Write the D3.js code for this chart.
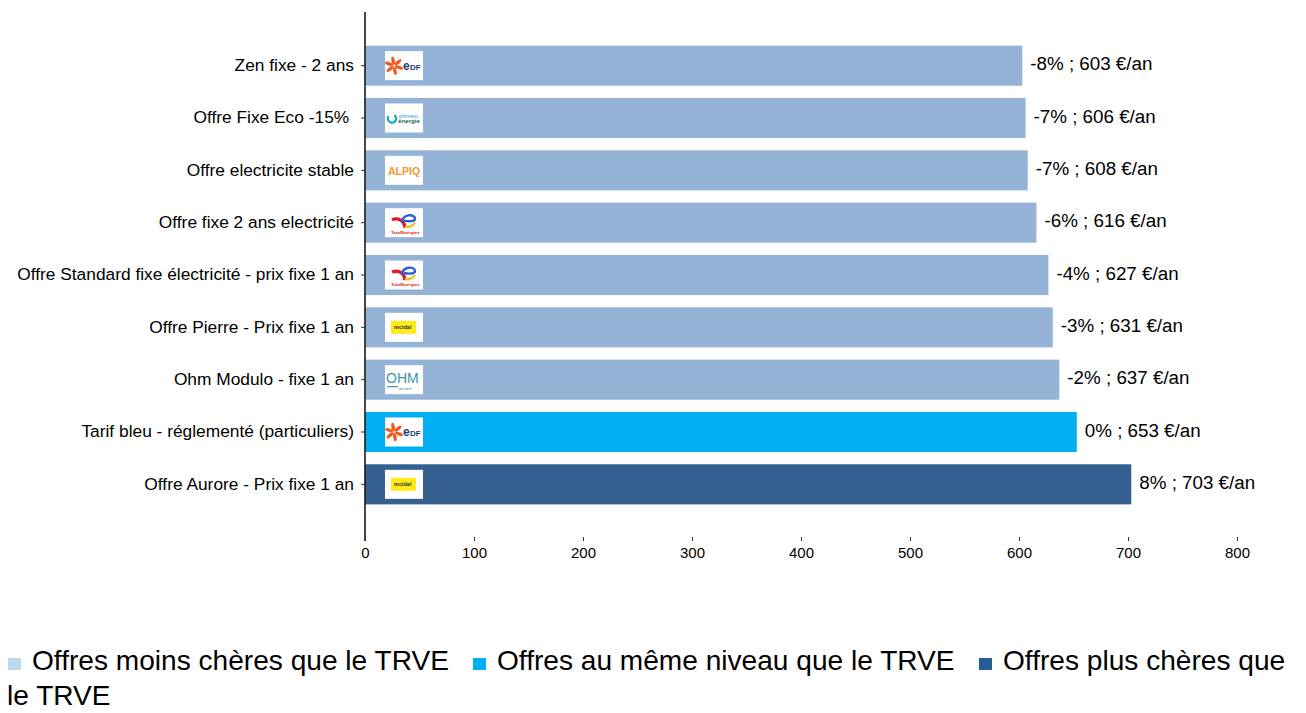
<!DOCTYPE html>
<html><head><meta charset="utf-8">
<script src="https://cdnjs.cloudflare.com/ajax/libs/d3/7.8.5/d3.min.js"></script>
<style>html,body{margin:0;padding:0;background:#fff;overflow:hidden}svg{display:block}text{font-family:"Liberation Sans",Arial,sans-serif;fill:#000;white-space:pre}</style>
</head><body><svg id="c" width="1306" height="713"></svg>
<script>
const offers=["Zen fixe - 2 ans","Offre Fixe Eco -15% ","Offre electricite stable","Offre fixe 2 ans electricité","Offre Standard fixe électricité - prix fixe 1 an","Offre Pierre - Prix fixe 1 an","Ohm Modulo - fixe 1 an","Tarif bleu - réglementé (particuliers)","Offre Aurore - Prix fixe 1 an"];
const prices=[603,606,608,616,627,631,637,653,703];
const deltas=["-8%","-7%","-7%","-6%","-4%","-3%","-2%","0%","8%"];
const groups=["low","low","low","low","low","low","low","same","high"];
const logos=["edf","primeo","alpiq","total","total","mint","ohm","edf","mint"];
const xTicks=[0,100,200,300,400,500,600,700,800];
const groupColors={low:"#95B3D7",same:"#00B0F0",high:"#366092"};
const legendItems=[["Offres moins chères que le TRVE","#BDD7EE"],["Offres au même niveau que le TRVE","#00B0F0"],["Offres plus chères que","#255E91"]];

const svg=d3.select("#c");
const x=d3.scaleLinear().domain([0,800]).range([365,1237]);
const y=d3.scaleBand().domain(offers).range([39.5,510.5]).paddingInner(0.234).paddingOuter(0.117);

svg.selectAll("rect.bar").data(offers).join("rect").attr("class","bar")
 .attr("x",x(0)).attr("y",d=>y(d)).attr("height",y.bandwidth())
 .attr("width",(d,i)=>x(prices[i])-x(0)).attr("fill",(d,i)=>groupColors[groups[i]]);

const yAxis=svg.append("g").attr("transform","translate(365,0)").call(d3.axisLeft(y).tickSize(4).tickPadding(7));
yAxis.select(".domain").remove();
yAxis.selectAll("line").attr("stroke","#333");
yAxis.selectAll("text").attr("font-size",17.33).attr("dy","0.3em").style("font-family",'"Liberation Sans",Arial,sans-serif');
svg.append("line").attr("x1",365).attr("x2",365).attr("y1",12).attr("y2",541).attr("stroke","#1a1a1a").attr("stroke-width",1.6);

const xAxis=svg.append("g").attr("transform","translate(0,541)").call(d3.axisBottom(x).tickValues(xTicks).tickSize(0).tickPadding(5));
xAxis.select(".domain").remove();
xAxis.selectAll("line").attr("y1",-4).attr("y2",0).attr("stroke","#333");
xAxis.selectAll("text").attr("font-size",15).attr("dy","0.82em").style("font-family",'"Liberation Sans",Arial,sans-serif');

svg.selectAll("text.val").data(offers).join("text").attr("class","val")
 .attr("x",(d,i)=>x(prices[i])+8).attr("y",d=>y(d)+y.bandwidth()/2+4.5).attr("font-size",18.8)
 .text((d,i)=>`${deltas[i]} ; ${prices[i]} €/an`);

function drawLogo(g,k){
 g.append("rect").attr("x",0).attr("y",-14.5).attr("width",38).attr("height",29).attr("fill","#fff");
 const T=(s,xx,yy,fs,col,w)=>g.append("text").attr("x",xx).attr("y",yy).attr("font-size",fs).attr("font-weight",w||"bold").style("fill",col).text(s);
 if(k==="edf"){
  d3.range(6).forEach(a=>g.append("ellipse").attr("cx",9).attr("cy",0).attr("rx",4.2).attr("ry",1.7)
    .attr("fill","#F0591F").attr("transform",`rotate(${a*60+20} 9 0) translate(5.2 0)`));
  T("e",18,4,12,"#1F3C78");
  T("DF",25,4,8,"#1F3C78");
 } else if(k==="primeo"){
  g.append("path").attr("d",d3.arc()({innerRadius:3,outerRadius:5.2,startAngle:0.6,endAngle:5.3})).attr("fill","#12A5C4").attr("transform","translate(7,0.5)");
  T("primeo",14,-0.5,6.2,"#12A5C4","normal");
  T("énergie",13,5,6.2,"#1B6E55","bold");
 } else if(k==="alpiq"){
  T("ALPIQ",3,5,10.5,"#EE9A2E");
 } else if(k==="total"){
  g.append("path").attr("d","M7 -3 C13 -5 19 -3 20 5").attr("fill","none").attr("stroke","#E2182A").attr("stroke-width",3.4);
  g.append("path").attr("d","M17 0 C17 -9 30 -9 30 -4 C30 -1 24 -1 19 -2").attr("fill","none").attr("stroke","#2C5FD0").attr("stroke-width",2.4);
  g.append("path").attr("d","M20 4 C24 5 28 3 30 0").attr("fill","none").attr("stroke","#E8C31C").attr("stroke-width",2.4);
  T("TotalEnergies",6,11,4.4,"#E2182A");
 } else if(k==="mint"){
  g.append("rect").attr("x",6).attr("y",-6.5).attr("width",25).attr("height",13).attr("fill","#FFEB1A");
  T("mcidal",9,2,5.5,"#333");
 } else if(k==="ohm"){
  T("OHM",1,3,14,"#3F93A6","normal");
  g.append("line").attr("x1",2).attr("x2",13).attr("y1",7).attr("y2",7).attr("stroke","#3F93A6").attr("stroke-width",1.2);
  T("durable",14,10,3.8,"#3F93A6","normal");
 }
}
svg.selectAll("g.logo").data(offers).join("g").attr("class","logo")
 .attr("transform",d=>`translate(385,${y(d)+y.bandwidth()/2})`)
 .each(function(d,i){drawLogo(d3.select(this),logos[i]);});

const legX=[8,473,979],legT=[32,497,1003];
legendItems.forEach((l,i)=>{
 svg.append("rect").attr("x",legX[i]).attr("y",658).attr("width",13).attr("height",12).attr("fill",l[1]);
 svg.append("text").attr("x",legT[i]).attr("y",670).attr("font-size",28.1).text(l[0]);
});
svg.append("text").attr("x",7).attr("y",705).attr("font-size",28.1).text("le TRVE");
</script></body></html>
